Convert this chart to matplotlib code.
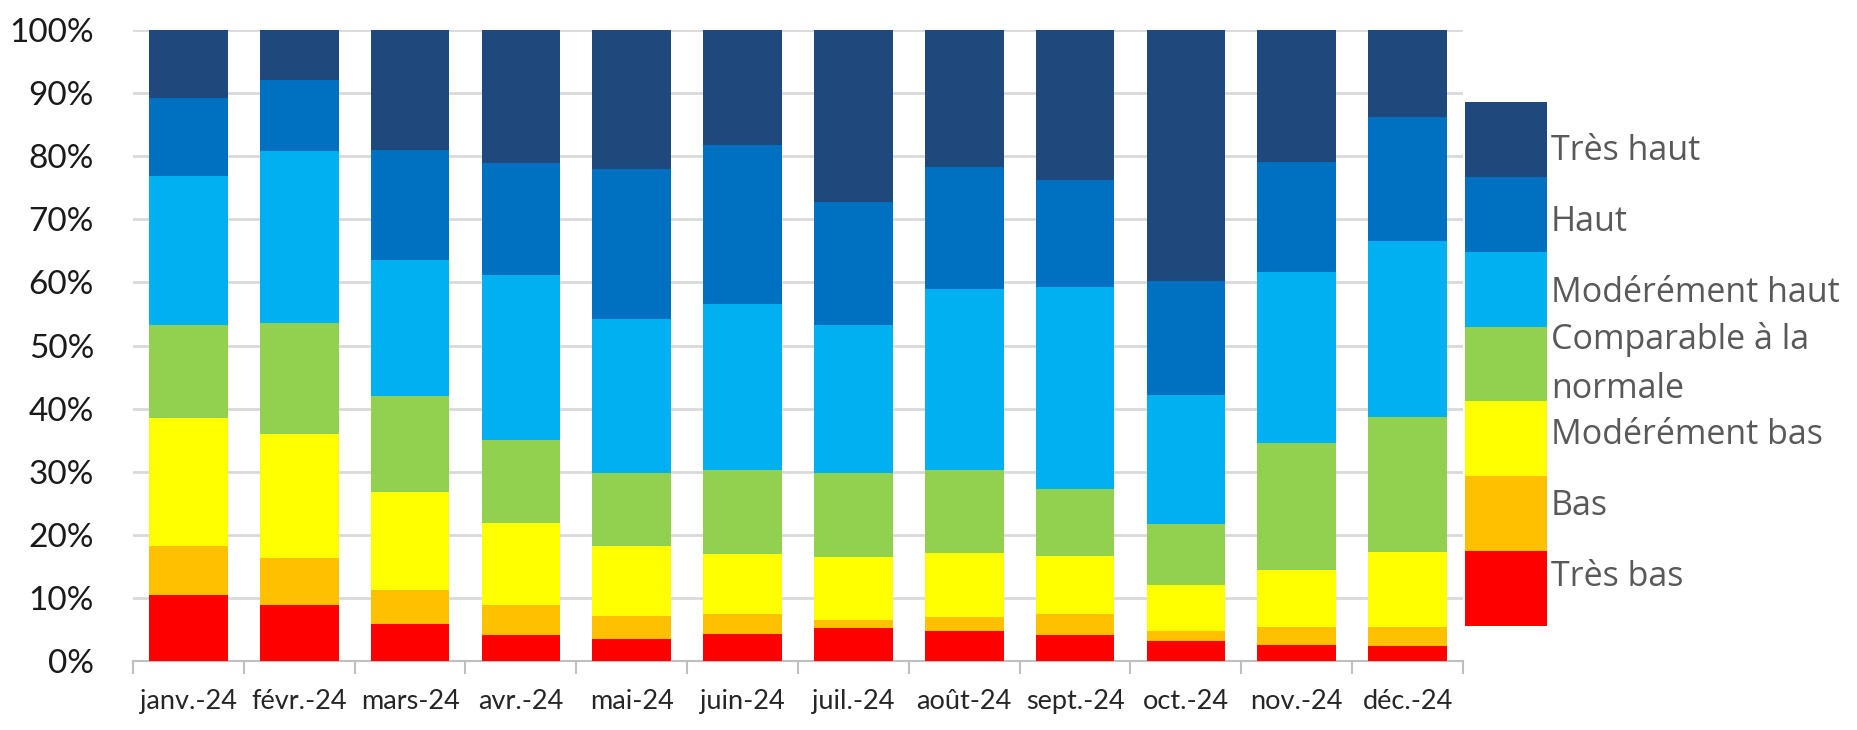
import matplotlib
matplotlib.use("Agg")
import matplotlib.pyplot as plt
import numpy as np

# Data (share in %, stacked from bottom to top)
months = ['janv.-24', 'févr.-24', 'mars-24', 'avr.-24', 'mai-24', 'juin-24',
          'juil.-24', 'août-24', 'sept.-24', 'oct.-24', 'nov.-24', 'déc.-24']
tres_bas = [10.5, 8.9, 5.9, 4.1, 3.5, 4.3, 5.2, 4.8, 4.1, 3.1, 2.6, 2.4]
bas = [7.8, 7.4, 5.4, 4.8, 3.6, 3.2, 1.3, 2.1, 3.4, 1.7, 2.8, 3.0]
mod_bas = [20.2, 19.6, 15.5, 12.9, 11.2, 9.4, 10.0, 10.2, 9.2, 7.2, 9.1, 11.8]
normale = [14.8, 17.7, 15.2, 13.3, 11.5, 13.3, 13.3, 13.1, 10.6, 9.7, 20.1, 21.5]
mod_haut = [23.5, 27.2, 21.6, 26.1, 24.4, 26.3, 23.5, 28.7, 32.0, 20.4, 27.0, 27.8]
haut = [12.4, 11.2, 17.4, 17.8, 23.8, 25.2, 19.4, 19.4, 16.9, 18.2, 17.5, 19.7]
tres_haut = [10.8, 8.0, 19.0, 21.0, 22.0, 18.3, 27.3, 21.7, 23.8, 39.7, 20.9, 13.8]

labels = ['Très bas', 'Bas', 'Modérément bas', 'Comparable à la\nnormale',
          'Modérément haut', 'Haut', 'Très haut']
colors = ['#FF0000', '#FFC000', '#FFFF00', '#92D050', '#00B0F0', '#0070C0', '#1F497D']
series = [tres_bas, bas, mod_bas, normale, mod_haut, haut, tres_haut]

axis_font = ['Lato', 'DejaVu Sans']
legend_font = ['Open Sans', 'DejaVu Sans']
grey = '#BFBFBF'

W, H = 1858, 730
fig = plt.figure(figsize=(W / 100, H / 100), dpi=100)
ax = fig.add_axes([133 / W, 1 - 661 / H, (1463 - 133) / W, (661 - 30) / H])

x = np.arange(len(months))
bottom = np.zeros(len(months))
for vals, col in zip(series, colors):
    ax.bar(x, vals, width=0.71, bottom=bottom, color=col, zorder=3)
    bottom += np.array(vals)

ax.set_xlim(-0.5, len(months) - 0.5)
ax.set_ylim(0, 100)
ax.set_yticks(np.arange(0, 101, 10))
ax.set_yticklabels([f'{v}%' for v in range(0, 101, 10)], family=axis_font,
                   fontsize=24, color='#1a1a1a')
ax.set_xticks(x)
ax.set_xticklabels(months, family=axis_font, fontsize=19.5, color='#262626')
ax.set_xticks(np.arange(-0.5, len(months), 1), minor=True)
ax.tick_params(axis='x', which='major', length=0, pad=20)
ax.tick_params(axis='x', which='minor', length=9, width=1.5, color=grey, direction='out')
ax.tick_params(axis='y', length=0, pad=28)
ax.grid(axis='y', color='#D9D9D9', linewidth=2, zorder=0)
for s in ['left', 'right', 'top']:
    ax.spines[s].set_visible(False)
ax.spines['bottom'].set_color(grey)
ax.spines['bottom'].set_linewidth(1.5)

# Legend drawn as a stacked column of equal swatches
lax = fig.add_axes([1465 / W, 1 - 626 / H, (1547 - 1465) / W, (626 - 102) / H])
for i, (lab, col) in enumerate(zip(labels, colors)):
    lax.bar(0, 1, bottom=i, width=1, color=col)
    lax.text(0.55, 0.65 + 0.95 * i, lab, ha='left', va='center',
             family=legend_font, fontsize=24.5, color='#595959',
             linespacing=1.6, clip_on=False)
lax.set_xlim(-0.5, 0.5)
lax.set_ylim(0, len(labels))
lax.axis('off')

fig.savefig('out.png', dpi=100)
